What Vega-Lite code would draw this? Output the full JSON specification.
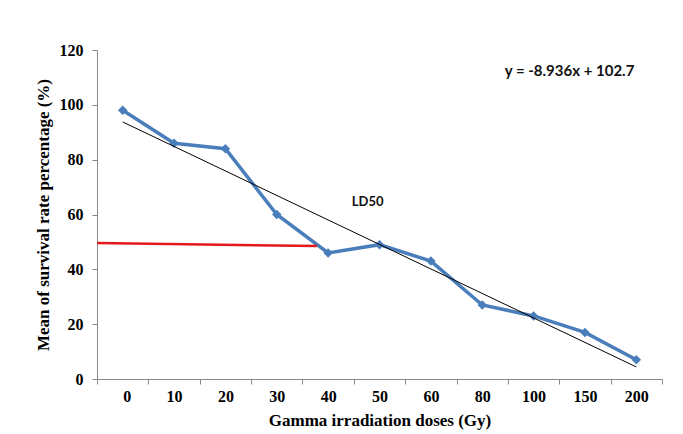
{
  "$schema": "https://vega.github.io/schema/vega-lite/v6.json",
  "width": 565,
  "height": 329,
  "autosize": {"type": "none"},
  "padding": {"left": 97, "top": 50, "right": 21, "bottom": 55},
  "background": "white",
  "config": {"view": {"stroke": null}},
  "datasets": {
    "survival": [
      {"dose": "0", "idx": 1, "survival": 98},
      {"dose": "10", "idx": 2, "survival": 86},
      {"dose": "20", "idx": 3, "survival": 84},
      {"dose": "30", "idx": 4, "survival": 60},
      {"dose": "40", "idx": 5, "survival": 46},
      {"dose": "50", "idx": 6, "survival": 49},
      {"dose": "60", "idx": 7, "survival": 43},
      {"dose": "80", "idx": 8, "survival": 27},
      {"dose": "100", "idx": 9, "survival": 23},
      {"dose": "150", "idx": 10, "survival": 17},
      {"dose": "200", "idx": 11, "survival": 7}
    ],
    "trend": [
      {"idx": 1, "value": 93.76},
      {"idx": 11, "value": 4.40}
    ],
    "ld50": [
      {"idx": 0.5, "value": 49.6},
      {"idx": 4.78, "value": 48.5}
    ],
    "labels": [
      {"idx": 5.77, "value": 64.7, "text": "LD50", "size": 13},
      {"idx": 9.7, "value": 112.5, "text": "y = -8.936x + 102.7", "size": 15}
    ]
  },
  "layer": [
    {
      "data": {"name": "survival"},
      "mark": {"type": "line", "color": "#4a7ebb", "strokeWidth": 3.5, "point": {"shape": "diamond", "size": 90, "filled": true, "color": "#4a7ebb"}},
      "encoding": {
        "x": {
          "field": "idx", "type": "quantitative",
          "scale": {"domain": [0.5, 11.5], "nice": false, "zero": false},
          "axis": {
            "values": [0.5, 1.5, 2.5, 3.5, 4.5, 5.5, 6.5, 7.5, 8.5, 9.5, 10.5, 11.5],
            "labelExpr": "datum.value < 11 ? ['0','10','20','30','40','50','60','80','100','150','200'][floor(datum.value)] : ''",
            "labelOffset": 25.7,
            "labelFont": "Liberation Serif", "labelFontWeight": "bold", "labelFontSize": 16, "labelColor": "#000",
            "labelPadding": 4,
            "tickSize": 5, "tickColor": "#888", "domainColor": "#888",
            "grid": false,
            "title": "Gamma irradiation  doses (Gy)",
            "titleFont": "Liberation Serif", "titleFontWeight": "bold", "titleFontSize": 17, "titleColor": "#000",
            "titlePadding": 8
          }
        },
        "y": {
          "field": "survival", "type": "quantitative",
          "scale": {"domain": [0, 120], "nice": false},
          "axis": {
            "values": [0, 20, 40, 60, 80, 100, 120],
            "labelFont": "Liberation Serif", "labelFontWeight": "bold", "labelFontSize": 16, "labelColor": "#000",
            "labelPadding": 9,
            "tickSize": 5, "tickColor": "#888", "domainColor": "#888",
            "grid": false,
            "title": "Mean of survival  rate percentage (%)",
            "titleFont": "Liberation Serif", "titleFontWeight": "bold", "titleFontSize": 17, "titleColor": "#000",
            "titlePadding": 7
          }
        }
      }
    },
    {
      "data": {"name": "ld50"},
      "mark": {"type": "line", "color": "#e3191c", "strokeWidth": 2.5},
      "encoding": {
        "x": {"field": "idx", "type": "quantitative"},
        "y": {"field": "value", "type": "quantitative"}
      }
    },
    {
      "data": {"name": "trend"},
      "mark": {"type": "line", "color": "#000", "strokeWidth": 1},
      "encoding": {
        "x": {"field": "idx", "type": "quantitative"},
        "y": {"field": "value", "type": "quantitative"}
      }
    },
    {
      "data": {"name": "labels"},
      "mark": {"type": "text", "font": "Lato", "fontWeight": "bold", "color": "#111", "align": "center", "baseline": "middle"},
      "encoding": {
        "x": {"field": "idx", "type": "quantitative"},
        "y": {"field": "value", "type": "quantitative"},
        "text": {"field": "text"},
        "size": {"field": "size", "type": "quantitative", "scale": null, "legend": null}
      }
    }
  ]
}
